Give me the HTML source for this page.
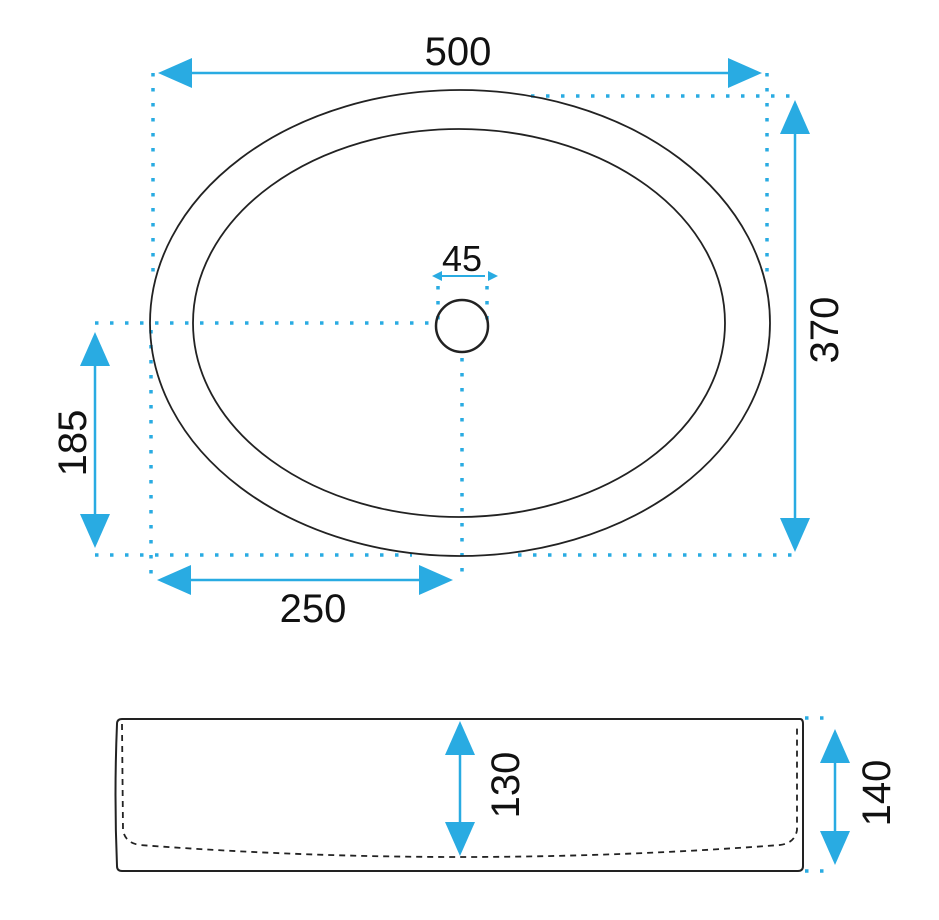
<!DOCTYPE html>
<html><head><meta charset="utf-8"><style>
html,body{margin:0;padding:0;background:#fff;width:939px;height:920px;overflow:hidden}
svg{display:block}
text{font-family:"Liberation Sans",sans-serif;font-size:40px;fill:#111}
</style></head><body>
<svg width="939" height="920" viewBox="0 0 939 920" xmlns="http://www.w3.org/2000/svg">
<g fill="none" stroke="#29abe2" stroke-width="3.5" stroke-dasharray="3.5 11.5">
  <line x1="153" y1="73" x2="153" y2="272"/>
  <line x1="767" y1="73" x2="767" y2="272"/>
  <line x1="531" y1="96" x2="797" y2="96"/>
  <line x1="95" y1="323" x2="432" y2="323"/>
  <line x1="95" y1="555" x2="412" y2="555"/>
  <line x1="518" y1="555" x2="793" y2="555"/>
  <line x1="151" y1="330" x2="151" y2="578"/>
  <line x1="462" y1="358" x2="462" y2="574"/>
  <line x1="438" y1="286" x2="438" y2="322"/>
  <line x1="487" y1="286" x2="487" y2="322"/>
  <line x1="805" y1="718" x2="835" y2="718"/>
  <line x1="805" y1="871" x2="835" y2="871"/>
</g>
<g fill="none" stroke="#222" stroke-width="1.8">
  <ellipse cx="460" cy="323" rx="310" ry="233"/>
  <ellipse cx="459" cy="323" rx="266" ry="194"/>
  <circle cx="462" cy="326" r="26" stroke-width="2.5"/>
  <path d="M122 719 L800 719 Q803 719 803 724 L803 866 Q803 871 798 871 L122 871 Q117 871 117 866 Q114 795 117 724 Q117 719 122 719 Z" stroke-width="2"/>
  <path d="M122 724 L123 830 Q125 843 140 845 Q300 857 460 857 Q620 857 780 845 Q795 843 797 830 L797 724" stroke-dasharray="6 5"/>
</g>
<g stroke="#29abe2" stroke-width="2.5" fill="#29abe2">
  <line x1="180" y1="73" x2="740" y2="73"/>
  <polygon points="158,73 192,58 192,88" stroke="none"/>
  <polygon points="762,73 728,58 728,88" stroke="none"/>
  <line x1="795" y1="120" x2="795" y2="530"/>
  <polygon points="795,100 780,134 810,134" stroke="none"/>
  <polygon points="795,552 780,518 810,518" stroke="none"/>
  <line x1="95" y1="350" x2="95" y2="530"/>
  <polygon points="95,332 80,366 110,366" stroke="none"/>
  <polygon points="95,548 80,514 110,514" stroke="none"/>
  <line x1="175" y1="580" x2="435" y2="580"/>
  <polygon points="157,580 191,565 191,595" stroke="none"/>
  <polygon points="453,580 419,565 419,595" stroke="none"/>
  <line x1="440" y1="276" x2="485" y2="276" stroke-width="2"/>
  <polygon points="432,276 442,271 442,281" stroke="none"/>
  <polygon points="498,276 488,271 488,281" stroke="none"/>
  <line x1="460" y1="740" x2="460" y2="840"/>
  <polygon points="460,721 445,755 475,755" stroke="none"/>
  <polygon points="460,856 445,822 475,822" stroke="none"/>
  <line x1="835" y1="745" x2="835" y2="850"/>
  <polygon points="835,729 820,763 850,763" stroke="none"/>
  <polygon points="835,865 820,831 850,831" stroke="none"/>
</g>
<text x="458" y="65" text-anchor="middle">500</text>
<text x="313" y="622" text-anchor="middle">250</text>
<text x="462" y="271" text-anchor="middle" style="font-size:36px">45</text>
<text transform="translate(838,330) rotate(-90)" text-anchor="middle">370</text>
<text transform="translate(86,443) rotate(-90)" text-anchor="middle">185</text>
<text transform="translate(519,785) rotate(-90)" text-anchor="middle">130</text>
<text transform="translate(890,793) rotate(-90)" text-anchor="middle">140</text>
</svg>
</body></html>
